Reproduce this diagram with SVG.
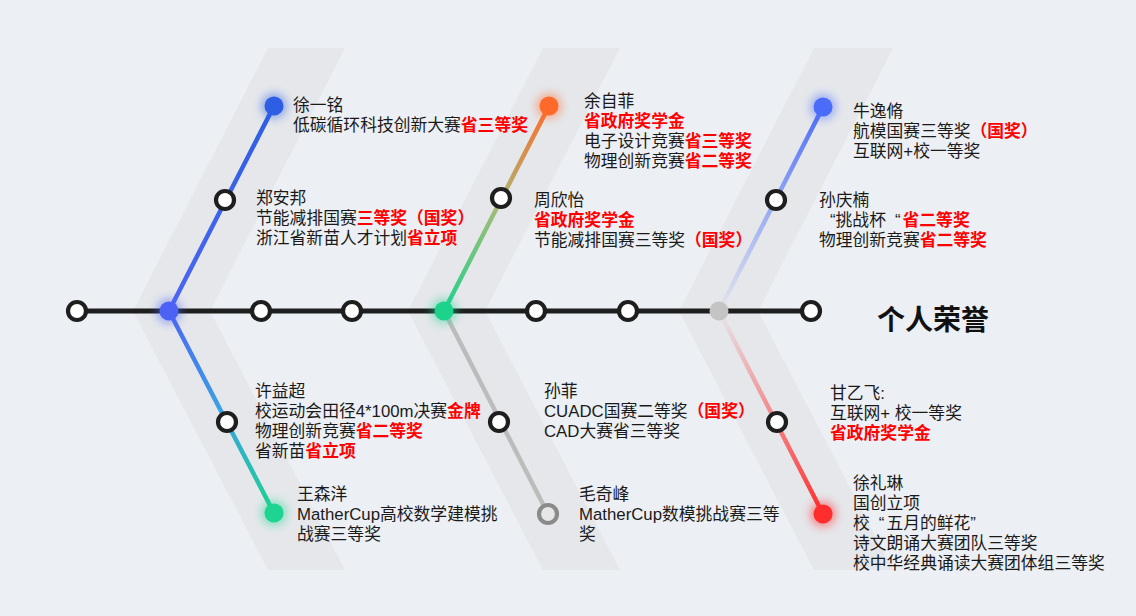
<svg xmlns="http://www.w3.org/2000/svg" width="1136" height="616" viewBox="0 0 1136 616">
<defs>
<style>
.t{font-family:"Liberation Sans","Noto Sans CJK SC",sans-serif;font-size:16.8px;fill:#1a1a1a}
.r{fill:#ff0000;font-weight:bold}
.ring{fill:#ffffff;stroke:#1e1e1e;stroke-width:4.2}
.band{fill:#e5e7eb}
.br{stroke-width:4.5;fill:none;stroke-linecap:round}
</style>
<filter id="glow" x="-100%" y="-100%" width="300%" height="300%"><feGaussianBlur stdDeviation="4"/></filter>
<linearGradient id="g1u" gradientUnits="userSpaceOnUse" x1="169" y1="311" x2="274" y2="106"><stop offset="0" stop-color="#4d66f2"/><stop offset="1" stop-color="#2d5ee3"/></linearGradient>
<linearGradient id="g1d" gradientUnits="userSpaceOnUse" x1="169" y1="311" x2="274" y2="513"><stop offset="0" stop-color="#4d66f2"/><stop offset="0.5" stop-color="#3aa2e4"/><stop offset="1" stop-color="#1dd38d"/></linearGradient>
<linearGradient id="g2u" gradientUnits="userSpaceOnUse" x1="444" y1="311" x2="549" y2="106"><stop offset="0" stop-color="#1dd38d"/><stop offset="0.5" stop-color="#a6bb78"/><stop offset="1" stop-color="#ff6b2c"/></linearGradient>
<linearGradient id="g3u" gradientUnits="userSpaceOnUse" x1="719" y1="311" x2="823" y2="107"><stop offset="0" stop-color="#5070f8" stop-opacity="0"/><stop offset="1" stop-color="#4a6cf9"/></linearGradient>
<linearGradient id="g3d" gradientUnits="userSpaceOnUse" x1="719" y1="311" x2="823" y2="514"><stop offset="0" stop-color="#ff3030" stop-opacity="0"/><stop offset="1" stop-color="#ff2d2d"/></linearGradient>
</defs>
<rect width="1136" height="616" fill="#eceff3"/>
<g id="bands">
<polygon class="band" points="268,48 345,48 210,311 345,570 268,570 133,311"/>
<polygon class="band" points="543,48 620,48 485,311 620,570 543,570 408,311"/>
<polygon class="band" points="814,48 893,48 758,311 893,570 814,570 679,311"/>
</g>
<g id="connectors">
<line x1="77" y1="311" x2="811" y2="311" stroke="#1e1e1e" stroke-width="5"/>
<line class="br" x1="169" y1="311" x2="274" y2="106" stroke="url(#g1u)"/>
<line class="br" x1="169" y1="311" x2="274" y2="513" stroke="url(#g1d)"/>
<line class="br" x1="444" y1="311" x2="549" y2="106" stroke="url(#g2u)"/>
<line class="br" x1="444" y1="311" x2="548" y2="514" stroke="#bcbcbc"/>
<line class="br" x1="719" y1="311" x2="823" y2="107" stroke="url(#g3u)"/>
<line class="br" x1="719" y1="311" x2="823" y2="514" stroke="url(#g3d)"/>
</g>
<g id="spine-nodes">
<circle class="ring" cx="77" cy="311" r="9"/>
<circle cx="169" cy="311" r="13" fill="#4d66f2" opacity="0.45" filter="url(#glow)"/>
<circle cx="169" cy="311" r="9.5" fill="#4c62f5"/>
<circle class="ring" cx="261" cy="311" r="9"/>
<circle class="ring" cx="352" cy="311" r="9"/>
<circle cx="444" cy="311" r="13" fill="#1dd38d" opacity="0.45" filter="url(#glow)"/>
<circle cx="444" cy="311" r="9.5" fill="#1dd38c"/>
<circle class="ring" cx="536" cy="311" r="9"/>
<circle class="ring" cx="628" cy="311" r="9"/>
<circle cx="719" cy="311" r="9.5" fill="#c4c4c4"/>
<circle class="ring" cx="811" cy="311" r="9"/>
</g>
<g id="title"><text x="877" y="330" style="font-family:'Noto Sans CJK SC','Microsoft YaHei',sans-serif;font-size:28px;font-weight:bold;fill:#111">个人荣誉</text></g>
<g id="n-xuyiming">
<circle cx="274" cy="106" r="13" fill="#2d5ee3" opacity="0.45" filter="url(#glow)"/>
<circle cx="274" cy="106" r="9.5" fill="#2d5ee3"/>
<text class="t"><tspan x="293" y="111">徐一铭</tspan><tspan x="293" y="131">低碳循环科技创新大赛<tspan class="r">省三等奖</tspan></tspan></text>
</g>
<g id="n-zhenganbang">
<circle class="ring" cx="225" cy="200" r="9"/>
<text class="t"><tspan x="256" y="204">郑安邦</tspan><tspan x="256" y="224">节能减排国赛<tspan class="r">三等奖（国奖）</tspan></tspan><tspan x="256" y="244">浙江省新苗人才计划<tspan class="r">省立项</tspan></tspan></text>
</g>
<g id="n-xuyichao">
<circle class="ring" cx="227" cy="422" r="9"/>
<text class="t"><tspan x="255" y="397">许益超</tspan><tspan x="255" y="417">校运动会田径4*100m决赛<tspan class="r">金牌</tspan></tspan><tspan x="255" y="437">物理创新竞赛<tspan class="r">省二等奖</tspan></tspan><tspan x="255" y="457">省新苗<tspan class="r">省立项</tspan></tspan></text>
</g>
<g id="n-wangsenyang">
<circle cx="274" cy="513" r="13" fill="#1dd38d" opacity="0.45" filter="url(#glow)"/>
<circle cx="274" cy="513" r="9.5" fill="#1dd490"/>
<text class="t"><tspan x="297" y="500">王森洋</tspan><tspan x="297" y="520">MatherCup高校数学建模挑</tspan><tspan x="297" y="540">战赛三等奖</tspan></text>
</g>
<g id="n-yuzifei">
<circle cx="549" cy="106" r="13" fill="#ff6b2c" opacity="0.45" filter="url(#glow)"/>
<circle cx="549" cy="106" r="9.5" fill="#ff6a2b"/>
<text class="t"><tspan x="584" y="107">余自菲</tspan><tspan x="584" y="127" class="r">省政府奖学金</tspan><tspan x="584" y="147">电子设计竞赛<tspan class="r">省三等奖</tspan></tspan><tspan x="584" y="167">物理创新竞赛<tspan class="r">省二等奖</tspan></tspan></text>
</g>
<g id="n-zhouxinyi">
<circle class="ring" cx="501" cy="198" r="9"/>
<text class="t"><tspan x="534" y="206">周欣怡</tspan><tspan x="534" y="226" class="r">省政府奖学金</tspan><tspan x="534" y="246">节能减排国赛三等奖<tspan class="r">（国奖）</tspan></tspan></text>
</g>
<g id="n-sunfei">
<circle class="ring" cx="499" cy="422" r="9"/>
<text class="t"><tspan x="544" y="397">孙菲</tspan><tspan x="544" y="417">CUADC国赛二等奖<tspan class="r">（国奖）</tspan></tspan><tspan x="544" y="437">CAD大赛省三等奖</tspan></text>
</g>
<g id="n-maoqifeng">
<circle cx="548" cy="514" r="9" fill="#e6e6e6" stroke="#8a8a8a" stroke-width="4.2"/>
<text class="t"><tspan x="579" y="500">毛奇峰</tspan><tspan x="579" y="520">MatherCup数模挑战赛三等</tspan><tspan x="579" y="540">奖</tspan></text>
</g>
<g id="n-niuyixiao">
<circle cx="823" cy="107" r="13" fill="#4a6cf9" opacity="0.45" filter="url(#glow)"/>
<circle cx="823" cy="107" r="9.5" fill="#4a6cf9"/>
<text class="t"><tspan x="853" y="117">牛逸脩</tspan><tspan x="853" y="137">航模国赛三等奖<tspan class="r">（国奖）</tspan></tspan><tspan x="853" y="157">互联网+校一等奖</tspan></text>
</g>
<g id="n-sunqingnan">
<circle class="ring" cx="776" cy="200" r="9"/>
<text class="t"><tspan x="819" y="206">孙庆楠</tspan><tspan x="830" y="226">“挑战杯<tspan dx="9">“</tspan><tspan class="r" dx="2">省二等奖</tspan></tspan><tspan x="819" y="246">物理创新竞赛<tspan class="r">省二等奖</tspan></tspan></text>
</g>
<g id="n-ganyifei">
<circle class="ring" cx="777" cy="422" r="9"/>
<text class="t"><tspan x="830" y="399">甘乙飞:</tspan><tspan x="830" y="419">互联网+ 校一等奖</tspan><tspan x="830" y="439" class="r">省政府奖学金</tspan></text>
</g>
<g id="n-xulilin">
<circle cx="823" cy="514" r="13" fill="#ff2d2d" opacity="0.5" filter="url(#glow)"/>
<circle cx="823" cy="514" r="9.5" fill="#ff2d2d"/>
<text class="t"><tspan x="853" y="489">徐礼琳</tspan><tspan x="853" y="509">国创立项</tspan><tspan x="853" y="529">校<tspan dx="9">“</tspan><tspan dx="2">五月的鲜花”</tspan></tspan><tspan x="853" y="549">诗文朗诵大赛团队三等奖</tspan><tspan x="853" y="569">校中华经典诵读大赛团体组三等奖</tspan></text>
</g>
</svg>
